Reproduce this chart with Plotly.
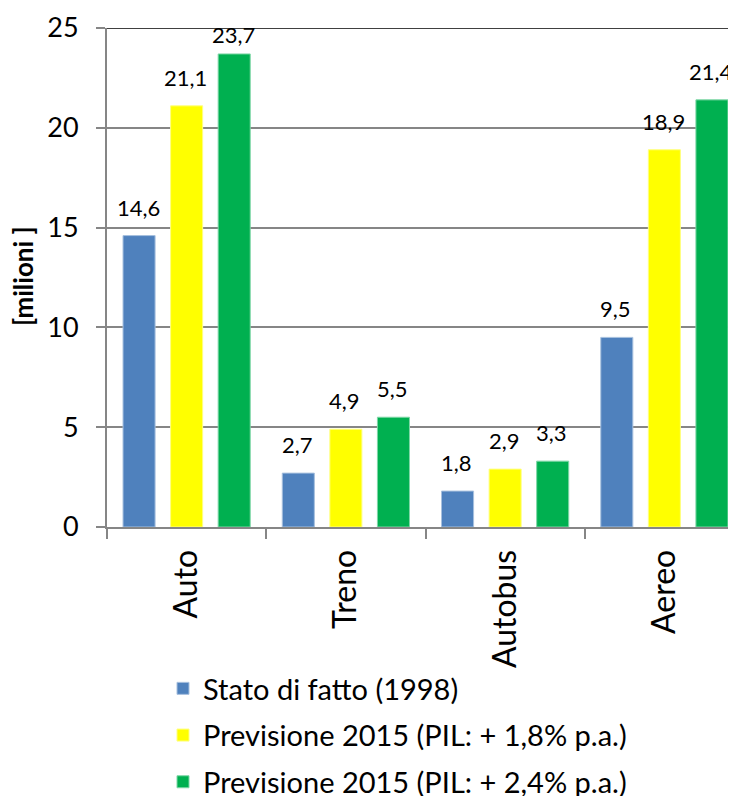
import plotly.graph_objects as go

categories = ["Auto", "Treno", "Autobus", "Aereo"]
series_names = [
    "Stato di fatto (1998)",
    "Previsione 2015 (PIL: + 1,8% p.a.)",
    "Previsione 2015 (PIL: + 2,4% p.a.)",
]
stato_1998 = [14.6, 2.7, 1.8, 9.5]
prev_18 = [21.1, 4.9, 2.9, 18.9]
prev_24 = [23.7, 5.5, 3.3, 21.4]
colors = ["#4F81BD", "#FFFF00", "#00B050"]
edge_colors = ["#A7C0DE", "#FFFF80", "#7FD7A7"]
y_ticks = [0, 5, 10, 15, 20, 25]

FONT = "Lato"
series = [stato_1998, prev_18, prev_24]

# page body has an 8px margin; target screen coords are shifted by it
OFF = 8
W, H = 736, 796
L = 107 - OFF
T = 28 - OFF
B = H - (527 - OFF)
R = 0
PW, PH = W - L - R, H - T - B


def px_x(sx):
    return (sx - OFF - L) / PW


def px_y(sy):
    return (H - B - (sy - OFF)) / PH


fig = go.Figure()
for name, vals, col, ec, k in zip(series_names, series, colors, edge_colors, range(3)):
    fig.add_trace(go.Bar(
        x=categories, y=vals, name=name,
        marker=dict(color=col, line=dict(color=ec, width=1)),
        legendgroup=f"g{k}",
    ))

# data labels
bargap = 0.104
slot = (1 - bargap) / 3
ymax = 25
px_per_unit = PH / ymax
annotations = []
for k, vals in enumerate(series):
    for i, v in enumerate(vals):
        base = v + 19 / px_per_unit
        base = min(base, ymax - 16 / px_per_unit)
        annotations.append(dict(
            x=i + (k - 1) * slot, y=base, xref="x", yref="y",
            text=f"{v:.1f}".replace(".", ","), showarrow=False,
            yanchor="bottom", yshift=-6, xshift=-1,
            font=dict(family=FONT, size=22, color="#000000"),
        ))

annotations.append(dict(
    x=px_x(23), y=px_y(276), xref="paper", yref="paper", text="<b>[milioni ]</b>",
    xanchor="center", yanchor="middle",
    showarrow=False, textangle=-90, font=dict(family=FONT, size=26, color="#000"),
))

fig.update_layout(
    width=W, height=H,
    margin=dict(l=L, r=R, t=T, b=B, autoexpand=False),
    paper_bgcolor="white", plot_bgcolor="white",
    barmode="group", bargap=bargap, bargroupgap=0.326,
    font=dict(family=FONT, size=22, color="#000"),
    annotations=annotations,
    showlegend=True,
    legend=dict(
        orientation="v", x=px_x(163), xanchor="left", y=px_y(663), yanchor="top",
        font=dict(family=FONT, size=29, color="#000"),
        traceorder="grouped", tracegroupgap=6,
        bgcolor="rgba(0,0,0,0)",
    ),
    shapes=[dict(type="line", xref="paper", yref="y", x0=0, x1=1, y0=25, y1=25,
                 line=dict(color="#000000", width=1.5))],
)
fig.update_xaxes(
    range=[-0.5, 3.5], type="category", automargin=False,
    showline=True, linecolor="#868686", linewidth=2,
    ticks="outside", tickson="boundaries", ticklen=10, tickcolor="#868686", tickwidth=2,
    tickangle=-90, tickfont=dict(family=FONT, size=32, color="#000"),
    ticklabelstandoff=8,
    showgrid=False,
)
fig.update_yaxes(
    range=[0, ymax], tickvals=y_ticks, automargin=False,
    showline=True, linecolor="#868686", linewidth=2,
    ticks="outside", ticklen=9, tickcolor="#868686", tickwidth=2,
    showgrid=True, gridcolor="#868686", gridwidth=1.5,
    zeroline=False,
    tickfont=dict(family=FONT, size=27, color="#000"),
    ticklabelstandoff=12,
)

fig.write_html("out.html")
